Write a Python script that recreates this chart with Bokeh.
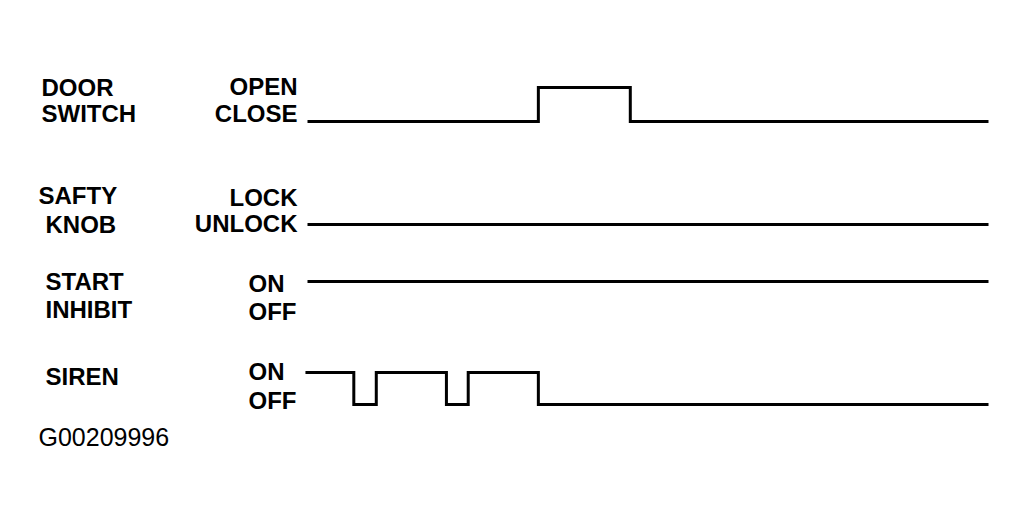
from bokeh.plotting import figure
from bokeh.models import Range1d, ColumnDataSource
from bokeh.core.properties import value
from bokeh.embed import file_html
from bokeh.resources import INLINE

# ---- data: timing diagram (time in arbitrary units 0..100) ----
door_times = [0, 33.9, 47.4, 100]
door_states = [0, 1, 0, 0]          # 0 = CLOSE, 1 = OPEN

knob_times = [0, 100]
knob_states = [0, 0]                # 0 = UNLOCK, 1 = LOCK

inhibit_times = [0, 100]
inhibit_states = [1, 1]             # 1 = ON, 0 = OFF

siren_times = [-0.3, 6.8, 10.1, 20.4, 23.6, 33.9, 100]
siren_states = [1, 0, 1, 0, 1, 0, 0]  # 1 = ON, 0 = OFF

group_labels = [["DOOR", "SWITCH"], ["SAFTY", "KNOB"], ["START", "INHIBIT"], ["SIREN"]]
state_labels = [["OPEN", "CLOSE"], ["LOCK", "UNLOCK"], ["ON", "OFF"], ["ON", "OFF"]]
figure_code = "G00209996"

# ---- layout ----
W, H = 1009, 503
OFF = 0
px_per_unit = 6.81
x0_px = 307 - OFF
xs = -x0_px / px_per_unit
x_range = Range1d(xs, xs + W / px_per_unit)
y_range = Range1d(OFF + H, OFF)
TY = -9  # text baseline correction


def px(a):
    return xs + (a - OFF) / px_per_unit


rows = [  # (low level y, high level y)
    (121, 87),
    (224, 196),
    (313, 281),
    (404, 372),
]

p = figure(width=W, height=H, x_range=x_range, y_range=y_range,
           output_backend="svg", toolbar_location=None, min_border=0)
p.axis.visible = False
p.grid.visible = False
p.outline_line_color = None
p.background_fill_color = "white"
p.border_fill_color = "white"

signals = [(door_times, door_states), (knob_times, knob_states),
           (inhibit_times, inhibit_states), (siren_times, siren_states)]
for (times, states), (lo, hi) in zip(signals, rows):
    ys = [lo + s * (hi - lo) for s in states]
    p.step(times, ys, mode="after", line_color="black", line_width=3,
           line_join="miter")

FS = "24px"
# group labels (left)
gx = [[41, 41], [38, 45], [45, 45], [45]]
gy = [[96, 122], [204, 233], [290, 318], [385]]
tx, ty, tt = [], [], []
for labs, xx, yy in zip(group_labels, gx, gy):
    for l, a, b in zip(labs, xx, yy):
        tx.append(px(a))
        ty.append(b + TY)
        tt.append(l)
p.text(x="x", y="y", text="t", source=ColumnDataSource(dict(x=tx, y=ty, t=tt)),
       text_font=value("Liberation Sans"), text_font_style="bold",
       text_font_size=FS, text_baseline="alphabetic", text_align="left",
       text_color="black")

# state labels
sy = [[95, 122], [206, 232], [292, 320], [380, 409]]
rx, ry, rt = [], [], []
lx, ly, lt = [], [], []
for i, (labs, yy) in enumerate(zip(state_labels, sy)):
    for l, b in zip(labs, yy):
        if i < 2:
            rx.append(px(297)); ry.append(b + TY); rt.append(l)
        else:
            lx.append(px(248)); ly.append(b + TY); lt.append(l)
p.text(x="x", y="y", text="t", source=ColumnDataSource(dict(x=rx, y=ry, t=rt)),
       text_font=value("Liberation Sans"), text_font_style="bold",
       text_font_size=FS, text_baseline="alphabetic", text_align="right",
       text_color="black")
p.text(x="x", y="y", text="t", source=ColumnDataSource(dict(x=lx, y=ly, t=lt)),
       text_font=value("Liberation Sans"), text_font_style="bold",
       text_font_size=FS, text_baseline="alphabetic", text_align="left",
       text_color="black")

# figure code
p.text(x=[px(38)], y=[446 + TY - 1], text=[figure_code],
       text_font=value("Liberation Sans"), text_font_size="25px",
       text_baseline="alphabetic", text_align="left", text_color="black")

open("out.html", "w").write(file_html(p, INLINE))
